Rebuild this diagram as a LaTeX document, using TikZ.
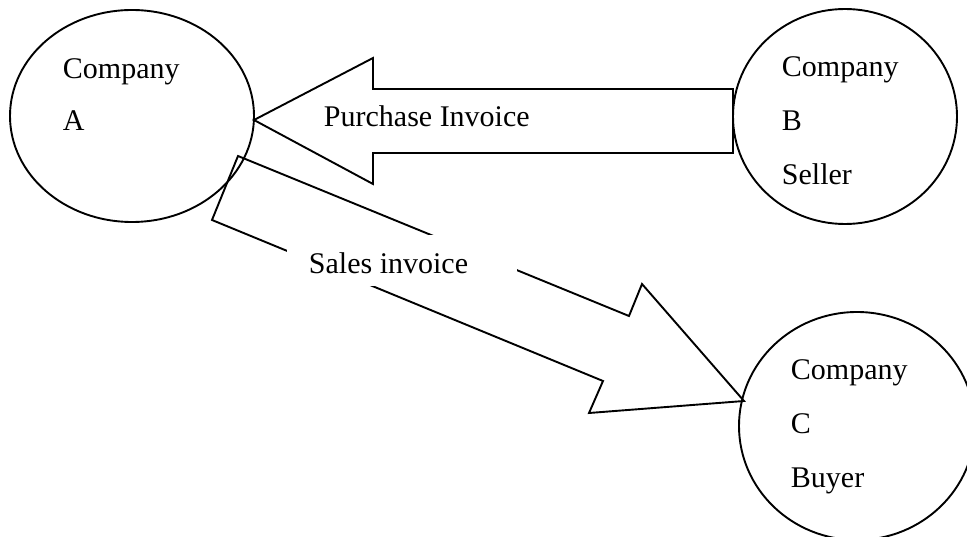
\documentclass[tikz,border=0pt]{standalone}
\usepackage{fontspec}
\setmainfont{Liberation Serif}
\usetikzlibrary{shapes.geometric}
\begin{document}
\begin{tikzpicture}[x=1pt,y=-1pt,line width=1.9pt,
  firm/.style={ellipse,draw,inner sep=0pt},
  lbl/.style={anchor=base west,inner sep=0pt,font=\fontsize{30}{36}\selectfont}]
\useasboundingbox (0,0) rectangle (967,537);
\clip (0,0) rectangle (967,537);

% the three companies
\node[firm,minimum width=244pt,minimum height=212pt] (A) at (132,116) {};
\node[firm,minimum width=224pt,minimum height=215pt] (B) at (845,116.5) {};
\node[firm,minimum width=236pt,minimum height=228pt] (C) at (857,426) {};

\node[lbl] (aName) at (62,79)  {Company};
\node[lbl] (aLetter) at (62,131) {A};

\node[lbl] (bName) at (781,77)  {Company};
\node[lbl] (bLetter) at (781,131) {B};
\node[lbl] (bRole) at (781,185) {Seller};

\node[lbl] (cName) at (790,380) {Company};
\node[lbl] (cLetter) at (790,433) {C};
\node[lbl] (cRole) at (790,487) {Buyer};

% purchase invoice: block arrow from B to A
\coordinate (pTip) at (254,120);
\coordinate (pHeadTop) at (373,58);
\coordinate (pShaftTop) at (373,89);
\coordinate (pEndTop) at (733,89);
\coordinate (pEndBot) at (733,153);
\coordinate (pShaftBot) at (373,153);
\coordinate (pHeadBot) at (373,184);
\draw (pTip) -- (pHeadTop) -- (pShaftTop) -- (pEndTop) -- (pEndBot)
      -- (pShaftBot) -- (pHeadBot) -- cycle;
\node[lbl] (pLabel) at (323,127) {Purchase Invoice};

% sales invoice: block arrow from A to C
\coordinate (sTailTop) at (238,156);
\coordinate (sShaftTop) at (629,316);
\coordinate (sHeadTop) at (642,284);
\coordinate (sTip) at (744,401);
\coordinate (sHeadBot) at (589,413);
\coordinate (sShaftBot) at (603,381);
\coordinate (sTailBot) at (212,220);
\draw (sTailTop) -- (sShaftTop) -- (sHeadTop) -- (sTip) -- (sHeadBot)
      -- (sShaftBot) -- (sTailBot) -- cycle;
\fill[white] (287,235) rectangle (517,286);
\node[lbl] (sLabel) at (308,274) {Sales invoice};
\end{tikzpicture}
\end{document}
